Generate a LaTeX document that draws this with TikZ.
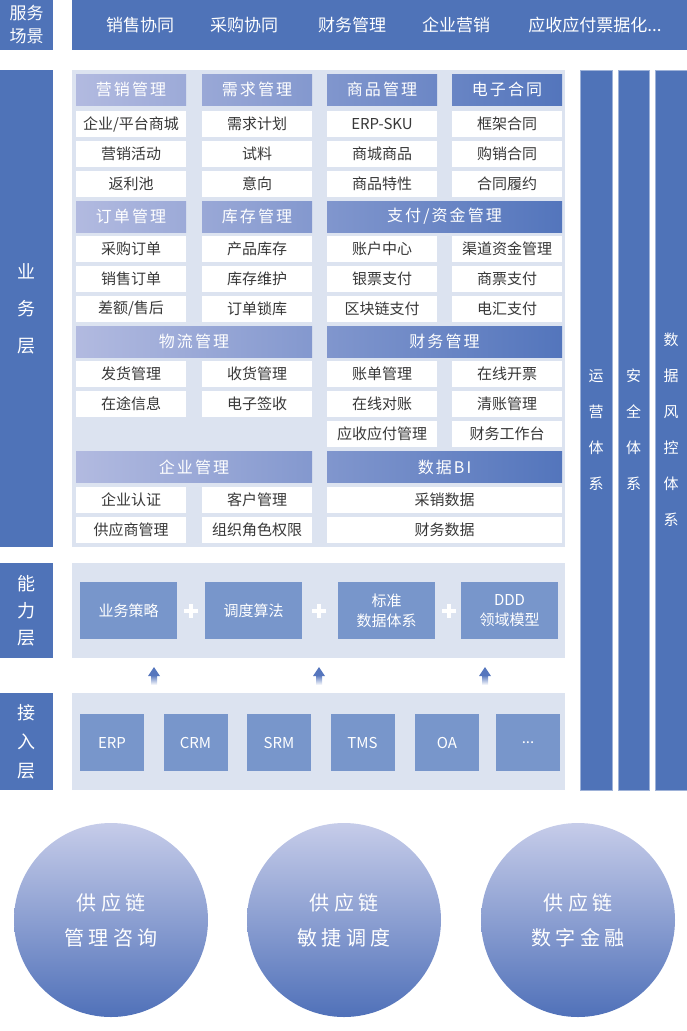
\documentclass[tikz,border=0pt]{standalone}
\usepackage{fontspec}
\setmainfont{Noto Sans CJK SC}
\newfontfamily\spacedfont[LetterSpace=22]{Noto Sans CJK SC}
\newfontfamily\hdfont[LetterSpace=13]{Noto Sans CJK SC}
\usepackage{tikz}
\usetikzlibrary{positioning}

\definecolor{barblue}{HTML}{4F73B8}
\definecolor{panelbg}{HTML}{DCE3F0}
\definecolor{capblue}{HTML}{7896CB}
\definecolor{hdL}{HTML}{B2BAE0}
\definecolor{hdR}{HTML}{5375BC}
\definecolor{celltext}{HTML}{383838}
\definecolor{arrblue}{HTML}{5676BD}
\definecolor{hubtop}{HTML}{C6CCE9}
\definecolor{hubbot}{HTML}{5071B9}

\begin{document}
\begin{tikzpicture}[
    x=1pt, y=-1pt,
    node distance=4pt,
    every node/.style={inner sep=0pt, outer sep=0pt},
    sidebox/.style={rectangle, fill=barblue, text=white, minimum width=53, align=center},
    layerbar/.style={rectangle, fill=barblue, draw=barblue!55!white, line width=0.6pt, minimum width=31, minimum height=720, text=white, align=center, font=\fontsize{15}{36}\selectfont},
    panel/.style={rectangle, fill=panelbg, minimum width=493},
    hd/.style={rectangle, text=white, minimum width=110, minimum height=31, font=\hdfont\fontsize{16}{19}\selectfont},
    cell/.style={rectangle, fill=white, text=celltext, minimum width=110, minimum height=26, font=\fontsize{15}{18}\selectfont},
    capbox/.style={rectangle, fill=capblue, text=white, minimum width=97, minimum height=57, align=center, font=\fontsize{15}{20}\selectfont},
    srcbox/.style={rectangle, fill=capblue, text=white, minimum width=64, minimum height=57, font=\fontsize{15}{18}\selectfont},
    plusmark/.style={minimum size=14, path picture={\draw[white, line width=3.5pt] (path picture bounding box.north) -- (path picture bounding box.south) (path picture bounding box.west) -- (path picture bounding box.east);}},
    hub/.style={circle, top color=hubtop, bottom color=hubbot, minimum size=194, text=white, align=center, font=\spacedfont\fontsize{20}{35}\selectfont},
    riser/.pic={
        \shade[top color=arrblue, bottom color=white] (-3,0) rectangle (3,-10);
        \fill[arrblue] (-6,-9) -- (6,-9) -- (0,-18) -- cycle;
    }
]
    \useasboundingbox (0,0) rectangle (687,1031);

    % service scenarios
    \node[sidebox, minimum height=50, font=\fontsize{17}{23}\selectfont] (svc) at (26.5,25) {服务\\场景};
    \node[rectangle, fill=barblue, minimum width=615, minimum height=50] (svcbar) at (379.5,25) {};
    \node[text=white, font=\fontsize{17}{20}\selectfont] (svc1) at (140,25) {销售协同};
    \node[text=white, font=\fontsize{17}{20}\selectfont] (svc2) at (244,25) {采购协同};
    \node[text=white, font=\fontsize{17}{20}\selectfont] (svc3) at (352,25) {财务管理};
    \node[text=white, font=\fontsize{17}{20}\selectfont] (svc4) at (456,25) {企业营销};
    \node[text=white, font=\fontsize{17}{20}\selectfont] (svc5) at (595,25) {应收应付票据化...};

    % business layer
    \node[sidebox, minimum height=477, font=\fontsize{18}{37}\selectfont] (biz) at (26.5,308.5) {业\\务\\层};
    \node[panel, minimum height=477] (bizpanel) at (318.5,308.5) {};

    \node[hd, left color=hdR!0!hdL, right color=hdR!23!hdL] (mkt) at (131,89.5) {营销管理};
    \node[cell, below=6pt of mkt] (mkt1) {企业/平台商城};
    \node[cell, below=of mkt1] (mkt2) {营销活动};
    \node[cell, below=of mkt2] (mkt3) {返利池};

    \node[hd, left color=hdR!26!hdL, right color=hdR!49!hdL] (dmd) at (257,89.5) {需求管理};
    \node[cell, below=6pt of dmd] (dmd1) {需求计划};
    \node[cell, below=of dmd1] (dmd2) {试料};
    \node[cell, below=of dmd2] (dmd3) {意向};

    \node[hd, left color=hdR!52!hdL, right color=hdR!74!hdL] (gds) at (382,89.5) {商品管理};
    \node[cell, below=6pt of gds] (gds1) {ERP-SKU};
    \node[cell, below=of gds1] (gds2) {商城商品};
    \node[cell, below=of gds2] (gds3) {商品特性};

    \node[hd, left color=hdR!77!hdL, right color=hdR!100!hdL] (ctr) at (507,89.5) {电子合同};
    \node[cell, below=6pt of ctr] (ctr1) {框架合同};
    \node[cell, below=of ctr1] (ctr2) {购销合同};
    \node[cell, below=of ctr2] (ctr3) {合同履约};

    \node[hd, left color=hdR!0!hdL, right color=hdR!23!hdL] (ord) at (131,216.5) {订单管理};
    \node[cell, below=of ord] (ord1) {采购订单};
    \node[cell, below=of ord1] (ord2) {销售订单};
    \node[cell, below=of ord2] (ord3) {差额/售后};

    \node[hd, left color=hdR!26!hdL, right color=hdR!49!hdL] (stk) at (257,216.5) {库存管理};
    \node[cell, below=of stk] (stk1) {产品库存};
    \node[cell, below=of stk1] (stk2) {库存维护};
    \node[cell, below=of stk2] (stk3) {订单锁库};

    \node[hd, minimum width=235, left color=hdR!52!hdL, right color=hdR!100!hdL] (pay) at (444.5,216.5) {支付/资金管理};
    \node[cell] (pay1) at (382,249) {账户中心};
    \node[cell, below=of pay1] (pay2) {银票支付};
    \node[cell, below=of pay2] (pay3) {区块链支付};
    \node[cell] (pay4) at (507,249) {渠道资金管理};
    \node[cell, below=of pay4] (pay5) {商票支付};
    \node[cell, below=of pay5] (pay6) {电汇支付};

    \node[hd, minimum width=236, left color=hdR!0!hdL, right color=hdR!49!hdL] (lgs) at (194,341.5) {物流管理};
    \node[cell] (lgs1) at (131,374) {发货管理};
    \node[cell, below=of lgs1] (lgs2) {在途信息};
    \node[cell] (lgs3) at (257,374) {收货管理};
    \node[cell, below=of lgs3] (lgs4) {电子签收};

    \node[hd, minimum width=235, left color=hdR!52!hdL, right color=hdR!100!hdL] (fin) at (444.5,341.5) {财务管理};
    \node[cell] (fin1) at (382,374) {账单管理};
    \node[cell, below=of fin1] (fin2) {在线对账};
    \node[cell, below=of fin2] (fin3) {应收应付管理};
    \node[cell] (fin4) at (507,374) {在线开票};
    \node[cell, below=of fin4] (fin5) {清账管理};
    \node[cell, below=of fin5] (fin6) {财务工作台};

    \node[hd, minimum width=236, left color=hdR!0!hdL, right color=hdR!49!hdL] (ent) at (194,467) {企业管理};
    \node[cell] (ent1) at (131,500) {企业认证};
    \node[cell, below=of ent1] (ent2) {供应商管理};
    \node[cell] (ent3) at (257,500) {客户管理};
    \node[cell, below=of ent3] (ent4) {组织角色权限};

    \node[hd, minimum width=235, left color=hdR!52!hdL, right color=hdR!100!hdL] (bi) at (444.5,467) {数据BI};
    \node[cell, minimum width=235, below=of bi] (bi1) {采销数据};
    \node[cell, minimum width=235, below=of bi1] (bi2) {财务数据};

    % capability layer
    \node[sidebox, minimum height=95, font=\fontsize{18}{27}\selectfont] (cap) at (26.5,610.5) {能\\力\\层};
    \node[panel, minimum height=95] (cappanel) at (318.5,610.5) {};
    \node[capbox] (cap1) at (128.5,610.5) {业务策略};
    \node[capbox] (cap2) at (253.5,610.5) {调度算法};
    \node[capbox] (cap3) at (386.5,610.5) {标准\\数据体系};
    \node[capbox] (cap4) at (509.5,610.5) {DDD\\领域模型};
    \node[plusmark] (plus1) at (191,611) {};
    \node[plusmark] (plus2) at (319,611) {};
    \node[plusmark] (plus3) at (449,611) {};

    % access layer
    \node[sidebox, minimum height=97, font=\fontsize{18}{29}\selectfont] (acc) at (26.5,741.5) {接\\入\\层};
    \node[panel, minimum height=97] (accpanel) at (318.5,741.5) {};
    \node[srcbox] (src1) at (112,742.5) {ERP};
    \node[srcbox] (src2) at (195.5,742.5) {CRM};
    \node[srcbox] (src3) at (279,742.5) {SRM};
    \node[srcbox] (src4) at (362.5,742.5) {TMS};
    \node[srcbox] (src5) at (447,742.5) {OA};
    \node[srcbox] (src6) at (528,742.5) {...};

    % arrows from access to capability
    \coordinate (rise1) at (154,685);
    \coordinate (rise2) at (319,685);
    \coordinate (rise3) at (485,685);
    \pic at (rise1) {riser};
    \pic at (rise2) {riser};
    \pic at (rise3) {riser};

    % cross-cutting systems
    \node[layerbar, minimum width=32] (ops) at (596,430) {运\\营\\体\\系};
    \node[layerbar] (sec) at (633.5,430) {安\\全\\体\\系};
    \node[layerbar, minimum width=32] (risk) at (671,430) {数\\据\\风\\控\\体\\系};

    % offerings
    \node[hub] (hub1) at (111,920) {供应链\\管理咨询};
    \node[hub] (hub2) at (344,920) {供应链\\敏捷调度};
    \node[hub] (hub3) at (578,920) {供应链\\数字金融};
\end{tikzpicture}
\end{document}
